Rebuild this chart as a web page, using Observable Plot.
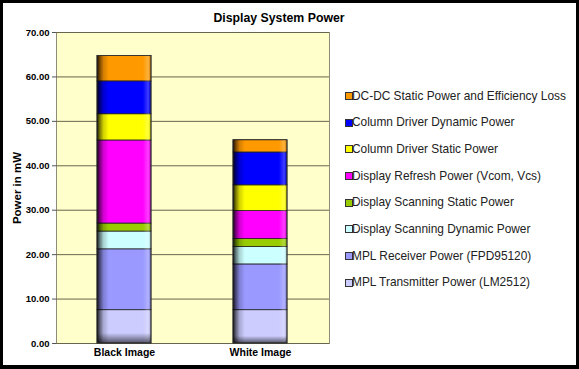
<!DOCTYPE html>
<html>
<head>
<meta charset="utf-8">
<script src="https://cdn.jsdelivr.net/npm/d3@7"></script>
<script src="https://cdn.jsdelivr.net/npm/@observablehq/plot@0.6"></script>
<style>
  html, body { margin: 0; padding: 0; background: #fff; }
  #wrap { position: relative; width: 579px; height: 369px; overflow: hidden; background: #fff;
          font-family: Arial, "Liberation Sans", sans-serif; }
  #wrap svg { position: absolute; left: 0; top: 0; }
  #border { position: absolute; left: 0; top: 0; width: 579px; height: 369px; box-sizing: border-box;
            border: 3px solid #000; border-bottom-width: 4px; pointer-events: none; }
  #title { position: absolute; left: 0; width: 558px; top: 11px; text-align: center;
           font-weight: bold; font-size: 12.3px; color: #000; }
  #legend { position: absolute; left: 344px; top: 89px; }
  .item { position: relative; height: 26.7px; font-size: 11.9px; color: #222; white-space: nowrap; }
  .sw { position: absolute; left: 1px; top: 3px; width: 6px; height: 6px; border: 1px solid #333; }
  .lab { position: absolute; left: 8px; top: -0.5px; line-height: 14px; }
</style>
</head>
<body>
<div id="wrap">
  <div id="title"></div>
  <div id="legend"></div>
  <div id="border"></div>
</div>
<script>
const title = "Display System Power";
const yLabel = "Power in mW";
const categories = ["Black Image", "White Image"];
const series = [
  "MPL Transmitter Power (LM2512)",
  "MPL Receiver Power (FPD95120)",
  "Display Scanning Dynamic Power",
  "Display Scanning Static Power",
  "Display Refresh Power (Vcom, Vcs)",
  "Column Driver Static Power",
  "Column Driver Dynamic Power",
  "DC-DC Static Power and Efficiency Loss"
];
const colors = ["#CCCCFF", "#9999FF", "#CCFFFF", "#99CC00", "#FF00FF", "#FFFF00", "#0000FF", "#FF9900"];
const blackValues = [7.5, 13.7, 4.0, 1.8, 18.7, 5.9, 7.4, 5.7];
const whiteValues = [7.5, 10.3, 3.9, 1.8, 6.3, 5.8, 7.4, 2.75];
const yTicks = [0, 10, 20, 30, 40, 50, 60, 70];

const rows = [];
series.forEach((s, i) => {
  rows.push({category: categories[0], series: s, value: blackValues[i]});
  rows.push({category: categories[1], series: s, value: whiteValues[i]});
});
const totals = categories.map((c) => ({category: c, total: d3.sum(rows.filter(r => r.category === c), r => r.value)}));

const chart = Plot.plot({
  width: 579,
  height: 369,
  marginLeft: 56,
  marginRight: 250,
  marginTop: 32,
  marginBottom: 26,
  style: {background: "transparent", fontFamily: "Arial, 'Liberation Sans', sans-serif", color: "#000"},
  x: {domain: categories, paddingInner: 0.6, paddingOuter: 0.3, label: null},
  y: {domain: [0, 70], label: null},
  color: {domain: series, range: colors},
  marks: [
    Plot.frame({fill: "#FFFFCC", stroke: "#8c8c78"}),
    Plot.gridY(yTicks, {stroke: "#66664f", strokeOpacity: 1, strokeWidth: 1}),
    Plot.axisY(yTicks, {tickFormat: d3.format(".2f"), tickSize: 4, tickPadding: 3, fontWeight: "bold", fontSize: 9.5, stroke: "#555", label: null}),
    Plot.axisX({tickSize: 0, tickPadding: 5, fontWeight: "bold", fontSize: 10.5, label: null}),
    Plot.barY(rows, Plot.stackY({x: "category", y: "value", fill: "series", stroke: "#222", strokeWidth: 0.8})),
    Plot.barY(totals, {x: "category", y: "total", fill: "url(#hshade)"}),
    Plot.barY(totals, {x: "category", y: "total", fill: "url(#vshade)"}),
    Plot.barY(totals, {x: "category", y: "total", fill: "none", stroke: "#333", strokeWidth: 0.8}),
    Plot.text([yLabel], {frameAnchor: "left", textAnchor: "middle", rotate: -90, dx: -39, fontWeight: "bold", fontSize: 11.5, fill: "#000"})
  ]
});

d3.select(chart).insert("defs", ":first-child").html(`
  <linearGradient id="hshade" x1="0" x2="1" y1="0" y2="0">
    <stop offset="0" stop-color="#000" stop-opacity="0.9"/>
    <stop offset="0.05" stop-color="#000" stop-opacity="0.55"/>
    <stop offset="0.12" stop-color="#000" stop-opacity="0.18"/>
    <stop offset="0.22" stop-color="#000" stop-opacity="0"/>
    <stop offset="0.85" stop-color="#fff" stop-opacity="0"/>
    <stop offset="0.95" stop-color="#fff" stop-opacity="0.25"/>
    <stop offset="1" stop-color="#000" stop-opacity="0.15"/>
  </linearGradient>
  <linearGradient id="vshade" x1="0" x2="0" y1="0" y2="1">
    <stop offset="0.965" stop-color="#000" stop-opacity="0"/>
    <stop offset="1" stop-color="#000" stop-opacity="0.6"/>
  </linearGradient>`);

document.getElementById("wrap").insertBefore(chart, document.getElementById("title"));
document.getElementById("title").textContent = title;

const legend = d3.select("#legend");
series.slice().reverse().forEach((s) => {
  const i = series.indexOf(s);
  const item = legend.append("div").attr("class", "item");
  item.append("div").attr("class", "sw").style("background", colors[i]);
  item.append("div").attr("class", "lab").text(s);
});
</script>
</body>
</html>
